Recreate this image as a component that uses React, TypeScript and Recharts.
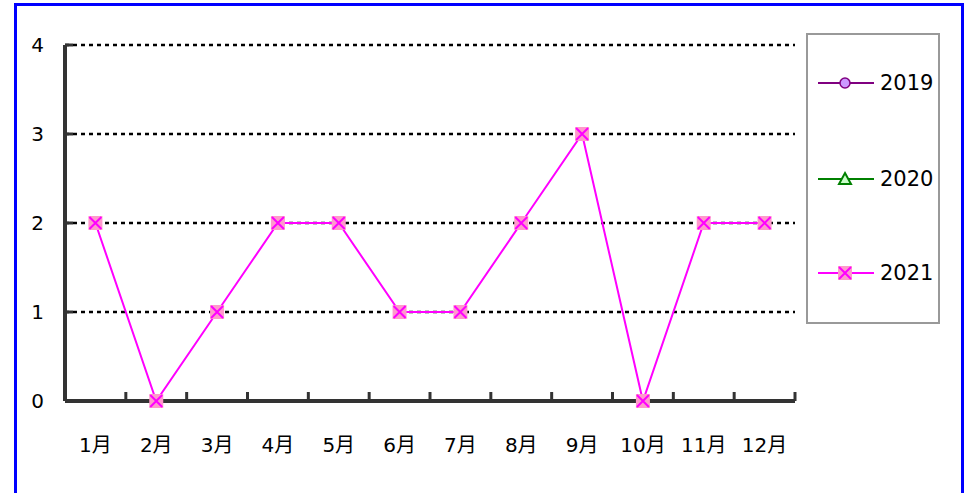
import { LineChart, Line, XAxis, YAxis, ReferenceLine } from 'recharts'

// 月份 / 系列数据
const months = ['1月', '2月', '3月', '4月', '5月', '6月', '7月', '8月', '9月', '10月', '11月', '12月']
const s2019: (number | null)[] = [null, null, null, null, null, null, null, null, null, null, null, null]
const s2020: (number | null)[] = [null, null, null, null, null, null, null, null, null, null, null, null]
const s2021: (number | null)[] = [2, 0, 1, 2, 2, 1, 1, 2, 3, 0, 2, 2]
const yTicks = [0, 1, 2, 3, 4]
const gridValues = [1, 2, 3, 4]

const data = months.map((m, i) => ({ m, y2019: s2019[i], y2020: s2020[i], y2021: s2021[i] }))

const W = 967
const H = 493
const PLOT = { left: 65, top: 45, right: 795, bottom: 401 }
const STEP = (PLOT.right - PLOT.left) / months.length
const AXIS = '#333333'
const FONT = '"DejaVu Sans", Verdana, "Noto Sans CJK JP", sans-serif'

function XTick(props: any) {
  const { x, payload } = props
  return (
    <g>
      <line x1={x + STEP / 2} y1={PLOT.bottom} x2={x + STEP / 2} y2={PLOT.bottom - 9} stroke={AXIS} strokeWidth={3} />
      <text x={x} y={452} textAnchor="middle" fontSize={20} fontFamily={FONT} fill="#000">{payload.value}</text>
    </g>
  )
}

function YTick(props: any) {
  const { y, payload } = props
  return (
    <g>
      <line x1={PLOT.left} y1={y} x2={PLOT.left + 8} y2={y} stroke={AXIS} strokeWidth={3} />
      <text x={44} y={y + 7} textAnchor="end" fontSize={20} fontFamily={FONT} fill="#000">{payload.value}</text>
    </g>
  )
}

function CrossDot(props: any) {
  const { cx, cy } = props
  if (cx == null || cy == null) return null
  return (
    <g>
      <rect x={cx - 7} y={cy - 7} width={14} height={14} fill="#ff99cc" />
      <path d={`M${cx - 6},${cy - 6}L${cx + 6},${cy + 6}M${cx + 6},${cy - 6}L${cx - 6},${cy + 6}`} stroke="#ff00ff" strokeWidth={2} />
    </g>
  )
}

// 图例
const legendItems = [
  { name: '2019', color: '#800080', marker: 'circle' },
  { name: '2020', color: '#008000', marker: 'triangle' },
  { name: '2021', color: '#ff00ff', marker: 'cross' },
]
const legendY = [48, 144, 238]

function LegendBox() {
  return (
    <div style={{
      position: 'fixed', left: 806, top: 33, width: 134, height: 291,
      boxSizing: 'border-box', border: '2px solid #999', background: '#fff',
    }}>
      {legendItems.map((it, i) => (
        <div key={it.name} style={{ position: 'absolute', left: 10, top: legendY[i] - 14, height: 28, display: 'flex', alignItems: 'center' }}>
          <svg width={58} height={20}>
            <line x1={0} y1={10} x2={56} y2={10} stroke={it.color} strokeWidth={2} />
            {it.marker === 'circle' && <circle cx={27} cy={10} r={5} fill="#cc99ff" stroke={it.color} strokeWidth={1.5} />}
            {it.marker === 'triangle' && <path d="M27,4L33,15L21,15Z" fill="#ccffcc" stroke={it.color} strokeWidth={2} />}
            {it.marker === 'cross' && (
              <g>
                <rect x={20} y={3} width={14} height={14} fill="#ff99cc" />
                <path d="M21,4L33,16M33,4L21,16" stroke="#ff00ff" strokeWidth={2} />
              </g>
            )}
          </svg>
          <span style={{ fontFamily: FONT, fontSize: 21, color: '#000', marginLeft: 4 }}>{it.name}</span>
        </div>
      ))}
    </div>
  )
}

export default function App() {
  return (
    <div>
      <div style={{
        position: 'fixed', left: 14, top: 3, width: 950, height: 560,
        boxSizing: 'border-box', border: '3px solid #0000ff', background: '#fff',
      }} />
      <div style={{ position: 'fixed', left: 0, top: 0 }}>
        <LineChart
          width={W}
          height={H}
          data={data}
          margin={{ top: PLOT.top, right: W - PLOT.right, bottom: H - PLOT.bottom - 30, left: PLOT.left - 50 }}
        >
          <XAxis
            dataKey="m"
            scale="band"
            height={30}
            axisLine={{ stroke: AXIS, strokeWidth: 4 }}
            tickLine={false}
            tick={<XTick />}
            interval={0}
          />
          <XAxis xAxisId="top" dataKey="m" scale="band" orientation="top" height={0} tick={false} tickLine={false} axisLine={{ stroke: '#999', strokeWidth: 2 }} />
          <YAxis
            width={50}
            domain={[0, 4]}
            ticks={yTicks}
            axisLine={{ stroke: AXIS, strokeWidth: 4 }}
            tickLine={false}
            tick={<YTick />}
          />
          <YAxis yAxisId="r" orientation="right" width={0} tick={false} tickLine={false} axisLine={{ stroke: '#999', strokeWidth: 2 }} />
          {gridValues.map((v) => (
            <ReferenceLine key={v} y={v} stroke="#000" strokeWidth={2.5} strokeDasharray="4 4" />
          ))}
          <Line dataKey="y2019" stroke="#800080" strokeWidth={2} dot={{ r: 5, fill: '#cc99ff', stroke: '#800080' }} isAnimationActive={false} />
          <Line dataKey="y2020" stroke="#008000" strokeWidth={2} dot={{ r: 5, fill: '#ccffcc', stroke: '#008000' }} isAnimationActive={false} />
          <Line dataKey="y2021" type="linear" stroke="#ff00ff" strokeWidth={2} dot={<CrossDot />} isAnimationActive={false} />
        </LineChart>
      </div>
      <LegendBox />
    </div>
  )
}
